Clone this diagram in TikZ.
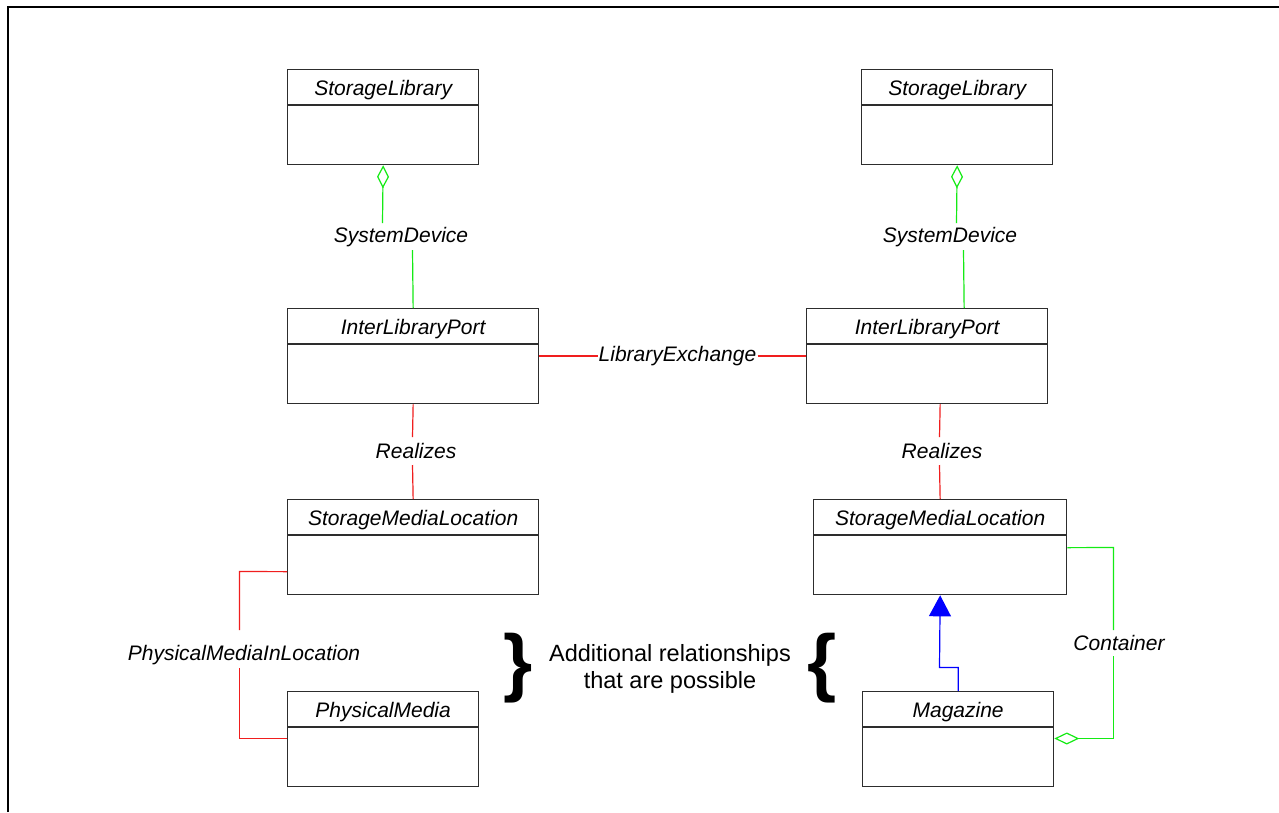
\documentclass[tikz,border=0pt]{standalone}
\usepackage{fontspec}
\setmainfont{Liberation Sans}
\usetikzlibrary{arrows.meta}
\definecolor{umlred}{RGB}{240,30,30}
\definecolor{umlgreen}{RGB}{20,235,20}
\definecolor{umlblue}{RGB}{0,0,255}
\definecolor{boxgray}{RGB}{45,45,45}
\newcommand\umlclass[6]{%
  \node[classbox,minimum width=#4pt] (#1) at (#2,#3) {};
  \node[classtitle] (#1-t) at ([yshift=-26pt]#1.north) {#6};
  \draw[divider] ([yshift=-36pt]#1.north west) -- ([yshift=-36pt]#1.north east);
}
\begin{document}
\begin{tikzpicture}[x=1pt,y=-1pt,
  classbox/.style={draw=boxgray,line width=1.3pt,minimum height=95pt,inner sep=0pt,anchor=north west},
  classtitle/.style={font=\fontsize{21}{24}\selectfont\itshape,inner sep=0pt,anchor=base},
  divider/.style={draw=boxgray,line width=1.2pt},
  lbl/.style={font=\fontsize{21}{24}\selectfont\itshape,inner sep=0pt,inner xsep=1pt},
  redline/.style={draw=umlred,line width=1.2pt},
  greenline/.style={draw=umlgreen,line width=1.2pt},
  blueline/.style={draw=umlblue,line width=1.2pt},
  agg/.style={greenline,{Diamond[open,fill=white,length=23pt,width=12pt]}-},
  aggend/.style={greenline,-{Diamond[open,fill=white,length=25pt,width=12pt]}},
  gen/.style={blueline,-{Triangle[length=21pt,width=22pt,fill=umlblue]}},
  brace/.style={font=\fontsize{75}{75}\selectfont\bfseries,inner sep=0pt}
]
\useasboundingbox (0,0) rectangle (1279,812);
\fill[white] (0,0) rectangle (1279,812);
% frame
\draw[line width=2.2pt] (8,812) -- (8,7) -- (1279,7);

% classes
\umlclass{slA}{287}{69}{191}{96}{StorageLibrary}
\umlclass{slB}{861}{69}{191}{96}{StorageLibrary}
\umlclass{ilpA}{287}{308}{251}{95}{InterLibraryPort}
\umlclass{ilpB}{806}{308}{241}{95}{InterLibraryPort}
\umlclass{smlA}{287}{499}{251}{96}{StorageMediaLocation}
\umlclass{smlB}{813}{499}{253}{96}{StorageMediaLocation}
\umlclass{pm}{287}{691}{191}{95}{PhysicalMedia}
\umlclass{mag}{862}{691}{191}{95}{Magazine}

% SystemDevice left
\node[lbl] (sdA) at (401,237) {SystemDevice};
\coordinate (sdA1) at (382.5,223);
\coordinate (sdA2) at (412.5,250);
\draw[agg] (slA.south) -- (sdA1);
\draw[greenline] (sdA2) -- (ilpA.north);

% SystemDevice right
\node[lbl] (sdB) at (950,237) {SystemDevice};
\coordinate (sdB1) at (956.5,223);
\coordinate (sdB2) at (963.5,250);
\draw[agg] (slB.south) -- (sdB1);
\draw[greenline] (sdB2) -- ([xshift=37pt]ilpB.north);

% LibraryExchange
\node[lbl] (lx) at (677.5,356) {LibraryExchange};
\draw[redline] (ilpA.east |- lx) -- (lx.west);
\draw[redline] (lx.east) -- (ilpB.west |- lx);

% Realizes left
\node[lbl] (rzA) at (416,451) {Realizes};
\coordinate (rzA1) at (412.5,437);
\coordinate (rzA2) at (412.5,465);
\draw[redline] (ilpA.south) -- (rzA1);
\draw[redline] (rzA2) -- (smlA.north);

% Realizes right
\node[lbl] (rzB) at (942,451) {Realizes};
\coordinate (rzB1) at (939.5,437);
\coordinate (rzB2) at (939.5,465);
\draw[redline] ([xshift=13pt]ilpB.south) -- (rzB1);
\draw[redline] (rzB2) -- (smlB.north);

% PhysicalMediaInLocation
\node[lbl] (pmil) at (244,655) {PhysicalMediaInLocation};
\coordinate (pmA) at (239.5,571.5);
\coordinate (pmA2) at (239.5,630);
\coordinate (pmB) at (239.5,738.5);
\coordinate (pmB2) at (239.5,668);
\draw[redline] ([yshift=-24.5pt]smlA.west) -- (pmA) -- (pmA2);
\draw[redline] (pmB2) -- (pmB) -- (pmB -| pm.west);

% Generalization Magazine -> StorageMediaLocation
\coordinate (gA) at (939.5,667.5);
\draw[gen] (mag.north) |- (gA) -- (smlB.south);

% Container aggregation
\node[lbl] (ct) at (1119,643) {Container};
\coordinate (ctA) at (1113.5,547.5);
\coordinate (ctA2) at (1113.5,630);
\coordinate (ctB) at (1113.5,738.5);
\coordinate (ctB2) at (1113.5,656);
\draw[greenline] ([yshift=-0.5pt]smlB.east) -- (ctA) -- (ctA2);
\draw[aggend] (ctB2) -- (ctB) -- (ctB -| mag.east);

% braces and note
\node[brace] (brL) at (518,668) {\}};
\node[brace] (brR) at (822,668) {\{};
\node[font=\fontsize{23.5}{27}\selectfont,align=center,inner sep=0pt] (note) at (670,669) {Additional relationships\\that are possible};
\end{tikzpicture}
\end{document}
